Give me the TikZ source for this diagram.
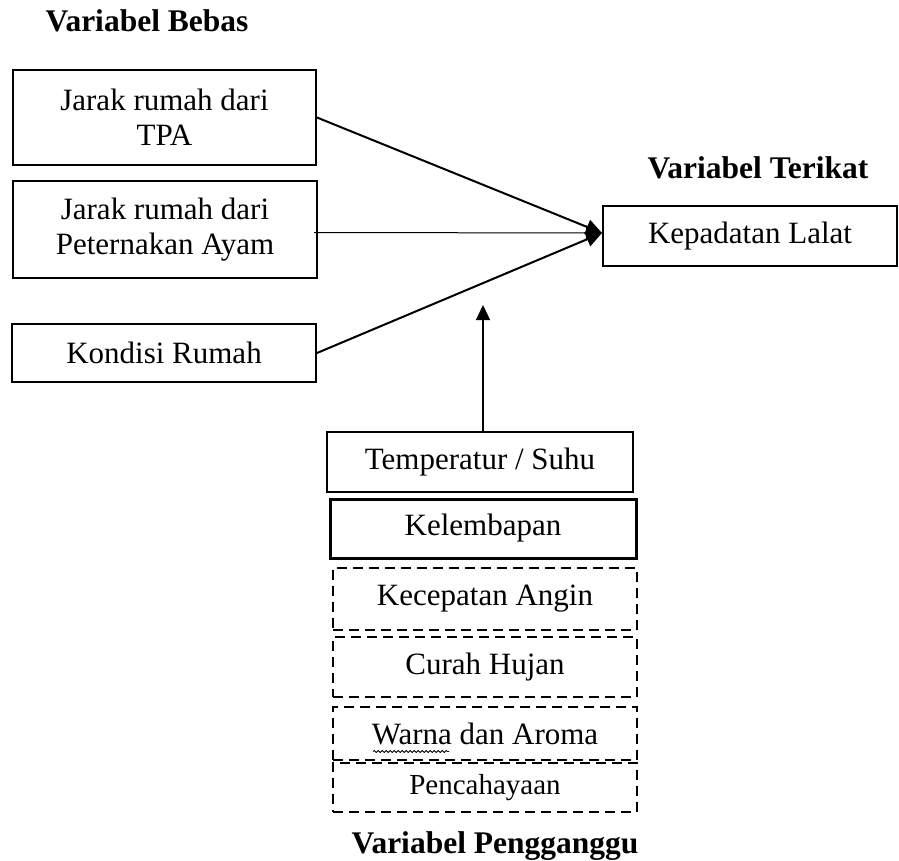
\documentclass[tikz,border=0pt]{standalone}
\usepackage{fontspec}
\setmainfont{Liberation Serif}
\usetikzlibrary{arrows.meta,decorations.pathmorphing}
\begin{document}
\begin{tikzpicture}[x=1pt,y=-1pt,
  box/.style={draw,line width=2pt,inner sep=0pt,align=center,font=\fontsize{31}{35}\selectfont},
  dbox/.style={box,dashed,dash pattern=on 10pt off 6pt,line width=2.4pt},
  head/.style={inner sep=0pt,font=\fontsize{31.5}{36}\selectfont\bfseries},
  conn/.style={line width=2pt},
  tip/.style={-{Triangle[length=16pt,width=15pt]}}]
\useasboundingbox (0,0) rectangle (899,861);
\node[head] (hb) at (147,21) {Variabel Bebas};
\node[head] (ht) at (758,168) {Variabel Terikat};
\node[head] (hp) at (495,846) {Variabel Pengganggu};

\node[box,minimum width=303pt,minimum height=95pt] (tpa) at (164.5,117.5) {Jarak rumah dari\\TPA};
\node[box,minimum width=304pt,minimum height=97pt] (pet) at (165,229.5) {Jarak rumah dari\\Peternakan Ayam};
\node[box,minimum width=304pt,minimum height=58pt] (kon) at (164,353) {Kondisi Rumah};
\node[box,minimum width=294pt,minimum height=60pt] (kep) at (750,236) {Kepadatan Lalat};

\node[box,minimum width=306pt,minimum height=60pt] (temp) at (480,462) {Temperatur / Suhu};
\node[box,line width=3pt,minimum width=306pt,minimum height=59pt] (kel) at (483,528.5) {Kelembapan};
\node[dbox,minimum width=304pt,minimum height=62pt] (kec) at (485,599) {Kecepatan Angin};
\node[dbox,minimum width=304pt,minimum height=60pt] (cur) at (485,667) {Curah Hujan};
\node[dbox,minimum width=304pt,minimum height=53pt] (war) at (485,733.5) {Warna dan Aroma};
\node[dbox,minimum width=304pt,minimum height=49pt,font=\fontsize{29}{33}\selectfont] (pen) at (485,787.5) {Pencahayaan};

\draw[line width=0.8pt,decorate,decoration={snake,amplitude=1pt,segment length=4pt}]
  ([shift={(-112,18)}]war.center) -- ([shift={(-36,18)}]war.center);

\coordinate (kin) at ([shift={(0,-3)}]kep.west);
\draw[conn,tip] (tpa.east) -- (kin);
\draw[line width=1pt,tip] ([shift={(-4,3)}]pet.east) -- (kin);
\draw[conn,tip] (kon.east) -- (kin);

\coordinate (vtip) at (483,305);
\draw[line width=1.3pt,-{Triangle[length=15pt,width=14pt]}] (temp.north -| vtip) -- (vtip);
\end{tikzpicture}
\end{document}
